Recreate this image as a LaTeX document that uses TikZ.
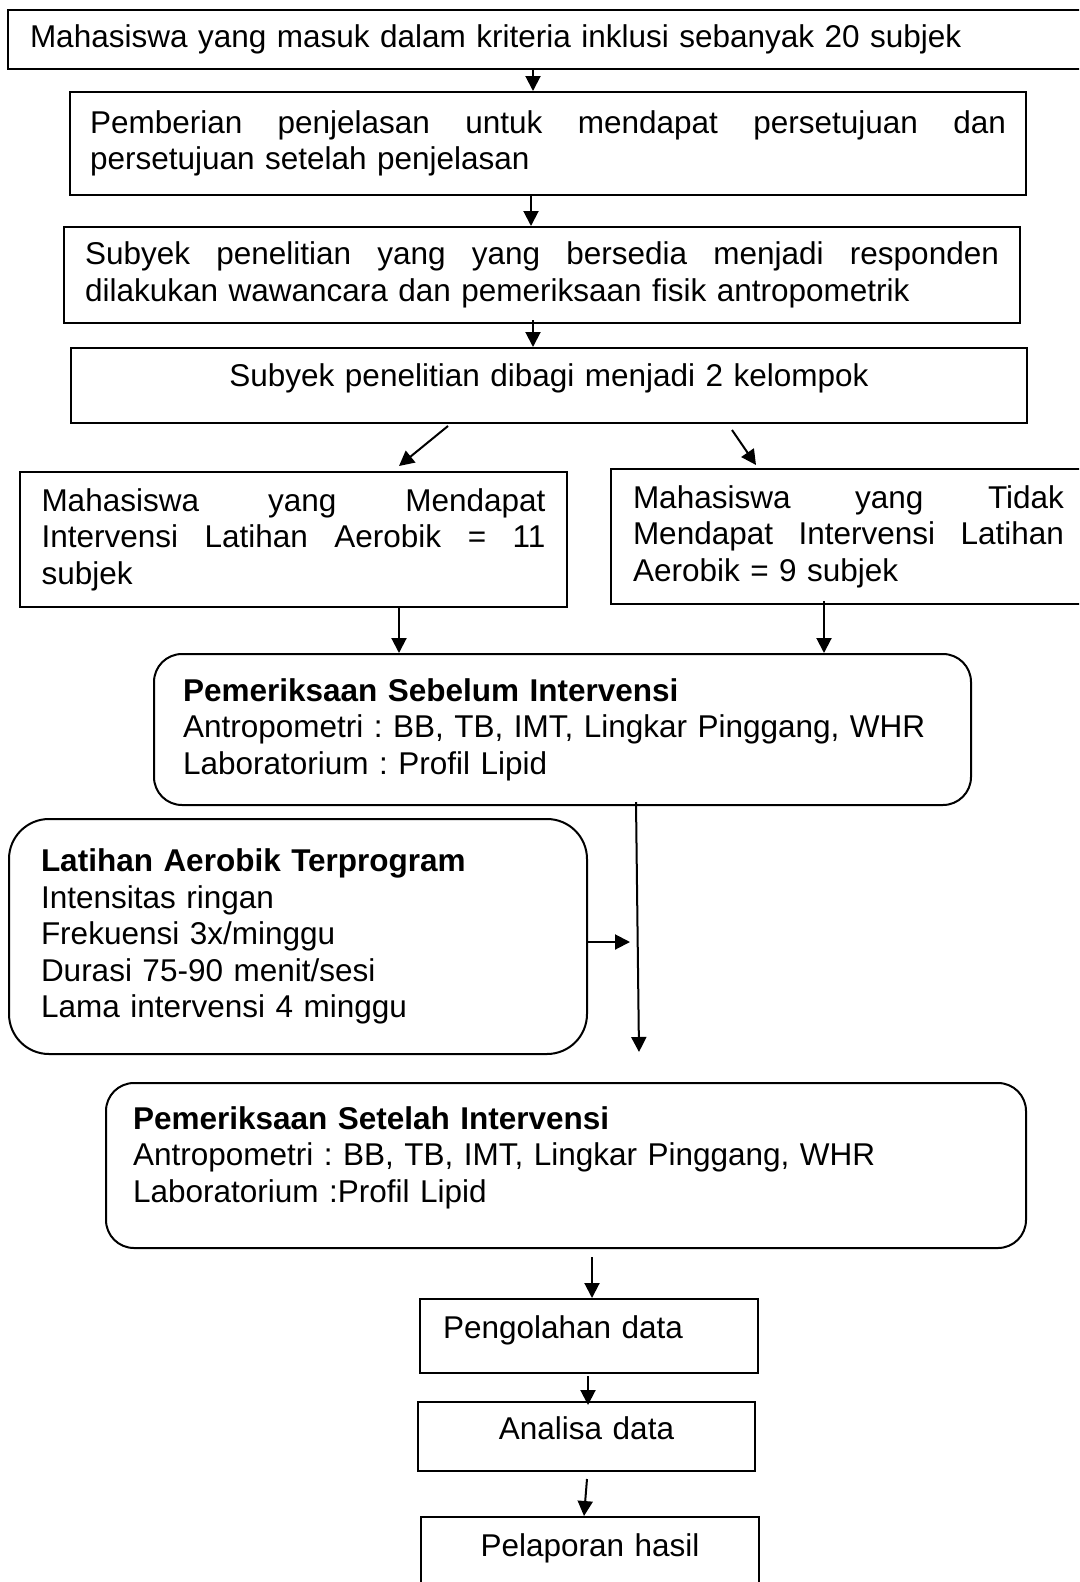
\documentclass[tikz,border=0pt]{standalone}
\usepackage{fontspec}
\setmainfont{Liberation Sans}
\usetikzlibrary{arrows.meta,calc}
\frenchspacing
\newcommand{\jfull}[2]{\makebox[#1][l]{#2}}
\begin{document}
\begin{tikzpicture}[x=1pt,y=-1pt,
  every node/.style={font=\fontsize{31.5}{36.6}\selectfont\frenchspacing},
  box/.style={draw,line width=2pt,anchor=north west,inner ysep=0pt,align=left},
  rbox/.style={box,rounded corners=28pt},
  arr/.style={line width=2pt,-{Triangle[length=15pt,width=15pt]}}]
\useasboundingbox (0,0) rectangle (1079,1582);
\clip (0,0) rectangle (1079,1582);

\node[box,minimum width=1083pt,minimum height=59pt,text width=1039pt,inner xsep=22pt] (b1) at (7,9)
  {Mahasiswa yang masuk dalam kriteria inklusi sebanyak 20 subjek};

\node[box,minimum width=956pt,minimum height=103pt,text width=916pt,inner xsep=20pt] (b2) at (69,91)
  {\jfull{916pt}{Pemberian\hfill penjelasan\hfill untuk\hfill mendapat\hfill persetujuan\hfill dan}\\persetujuan setelah penjelasan};

\node[box,minimum width=956pt,minimum height=96pt,text width=914pt,inner xsep=21pt] (b3) at (63,226)
  {\jfull{914pt}{Subyek\hfill penelitian\hfill yang\hfill yang\hfill bersedia\hfill menjadi\hfill responden}\\dilakukan wawancara dan pemeriksaan fisik antropometrik};

\node[box,align=center,minimum width=956pt,minimum height=75pt,text width=916pt,inner xsep=20pt,
      text height=23.3pt,text depth=21.7pt] (b4) at (70,347)
  {Subyek penelitian dibagi menjadi 2 kelompok};

\node[box,minimum width=547pt,minimum height=135pt,text width=504pt,inner xsep=21.5pt] (b5) at (19,471)
  {\jfull{504pt}{Mahasiswa\hfill yang\hfill Mendapat}\\\jfull{504pt}{Intervensi\hfill Latihan\hfill Aerobik\hfill =\hfill 11}\\subjek};

\node[box,minimum width=475pt,minimum height=135pt,text width=431pt,inner xsep=22pt] (b6) at (610,468)
  {\jfull{431pt}{Mahasiswa\hfill yang\hfill Tidak}\\\jfull{431pt}{Mendapat\hfill Intervensi\hfill Latihan}\\Aerobik = 9 subjek};

\node[rbox,minimum width=817pt,minimum height=151pt,text width=759pt,inner xsep=29pt] (b7) at (153,653)
  {\textbf{Pemeriksaan Sebelum Intervensi}\\Antropometri : BB, TB, IMT, Lingkar Pinggang, WHR\\Laboratorium : Profil Lipid};

\node[rbox,rounded corners=40pt,minimum width=578pt,minimum height=235pt,text width=514pt,inner xsep=32pt] (b8) at (8,818)
  {\textbf{Latihan Aerobik Terprogram}\\Intensitas ringan\\Frekuensi 3x/minggu\\Durasi 75-90 menit/sesi\\Lama intervensi 4 minggu};

\node[rbox,minimum width=920pt,minimum height=165pt,text width=866pt,inner xsep=27pt,
      text height=23.3pt,text depth=95.7pt] (b9) at (105,1082)
  {\textbf{Pemeriksaan Setelah Intervensi}\\Antropometri : BB, TB, IMT, Lingkar Pinggang, WHR\\Laboratorium :Profil Lipid};

\node[box,minimum width=338pt,minimum height=74pt,text width=292pt,inner xsep=23pt,
      text height=23.3pt,text depth=18.7pt] (b10) at (419,1298) {Pengolahan data};

\node[box,align=center,minimum width=337pt,minimum height=69pt,text width=297pt,inner xsep=20pt,
      text height=23.3pt,text depth=17.7pt] (b11) at (417,1401) {Analisa data};

\node[box,align=center,minimum width=338pt,minimum height=84pt,text width=298pt,inner xsep=20pt,
      text height=23.3pt,text depth=28.7pt] (b12) at (420,1516) {Pelaporan hasil};

\coordinate (e8) at (639,1052);
\coordinate (e9) at (630,942);

\draw[arr] ($(b1.south west)+(526,0)$) -- ($(b2.north west)+(464,0)$);
\draw[arr] ($(b2.south west)+(462,0)$) -- ($(b3.north west)+(468,0)$);
\draw[arr] ($(b3.south west)+(470,-4)$) -- ($(b4.north west)+(463,0)$);
\draw[arr] ($(b4.south west)+(378,2)$) -- ($(b5.north west)+(380,-5)$);
\draw[arr] ($(b4.south west)+(662,6)$) -- ($(b6.north west)+(146,-3)$);
\draw[arr] ($(b5.south west)+(380,0)$) -- ($(b7.north west)+(246,0)$);
\draw[arr] ($(b6.south west)+(214,-4)$) -- ($(b7.north west)+(671,0)$);
\draw[arr] ($(b7.south west)+(483,-4)$) -- (e8);
\draw[arr] (b8.east |- e9) -- (e9);
\draw[arr] ($(b9.south west)+(487,8)$) -- ($(b10.north west)+(173,0)$);
\draw[arr] ($(b10.south west)+(169,2)$) -- ($(b11.north west)+(171,4)$);
\draw[arr] ($(b11.south west)+(170,7)$) -- ($(b12.north west)+(164,0)$);
\end{tikzpicture}
\end{document}
